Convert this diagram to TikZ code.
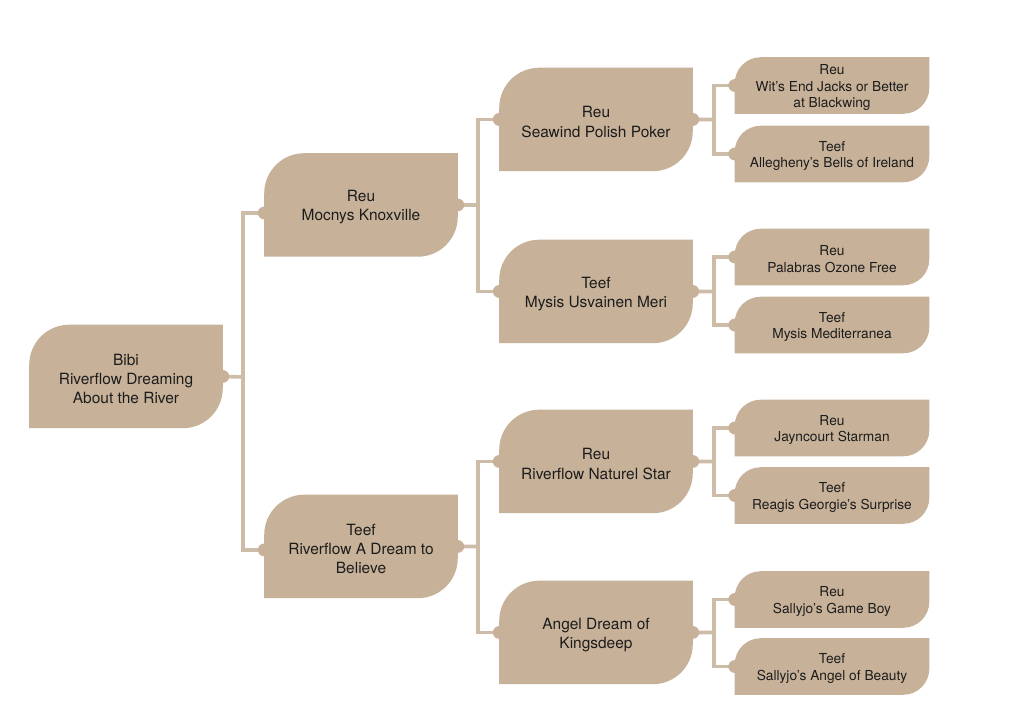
\documentclass[tikz,border=0pt]{standalone}
\usepackage{fontspec}
\setmainfont{TeX Gyre Heros}
\usetikzlibrary{backgrounds}
\definecolor{pedfill}{RGB}{199,178,153}
\definecolor{pedline}{RGB}{205,189,168}
\definecolor{pedtext}{RGB}{28,28,28}
\tikzset{
  mainbox/.style={rectangle, inner sep=0pt, minimum width=144.75pt, minimum height=77.25pt,
    align=center, text=pedtext, font=\fontsize{11.6}{14.3}\selectfont},
  leafbox/.style={rectangle, inner sep=0pt, minimum width=145.5pt, minimum height=42pt,
    align=center, text=pedtext, font=\fontsize{10.3}{12.3}\selectfont},
  conn/.style={draw=pedline, line width=2.7pt},
  tabdot/.style={fill=pedfill},
}
% shape drawn around node #1, corner radius #2, shifted vertically by #3
\newcommand\pedshape[3]{%
  \fill[pedfill] ([yshift=#3]#1.south west) -- ([yshift=#3-#2]#1.north west)
    arc[start angle=180,end angle=90,radius=#2] -- ([yshift=#3]#1.north east)
    -- ([yshift=#3+#2]#1.south east) arc[start angle=0,end angle=-90,radius=#2] -- cycle;}
\newcommand\pedtab[1]{\fill[tabdot] (#1) circle[radius=4.8pt];}
\begin{document}
\begin{tikzpicture}[x=0.75pt,y=-0.75pt]
\useasboundingbox (0,0) rectangle (1024,724);
% generation 1 (text sits 2.5px below the box centre)
\node[mainbox] (root) at (126,379) {Bibi\\Riverflow Dreaming\\About the River};
% generation 2
\node[mainbox] (kn) at (361,207.5) {Reu\\Mocnys Knoxville};
\node[mainbox] (rd) at (361,549) {Teef\\Riverflow A Dream to\\Believe};
% generation 3
\node[mainbox] (sw) at (596,122) {Reu\\Seawind Polish Poker};
\node[mainbox] (mu) at (596,294) {Teef\\Mysis Usvainen Meri};
\node[mainbox] (ns) at (596,464) {Reu\\Riverflow Naturel Star};
\node[mainbox] (ad) at (596,635) {Angel Dream of\\Kingsdeep};
% generation 4 (text sits 2px below the box centre)
\node[leafbox] (we) at (832,87.5) {Reu\\Wit’s End Jacks or Better\\at Blackwing};
\node[leafbox] (ab) at (832,156) {Teef\\Allegheny’s Bells of Ireland};
\node[leafbox] (po) at (832,259) {Reu\\Palabras Ozone Free};
\node[leafbox] (mm) at (832,327) {Teef\\Mysis Mediterranea};
\node[leafbox] (js) at (832,430) {Reu\\Jayncourt Starman};
\node[leafbox] (rg) at (832,497.5) {Teef\\Reagis Georgie’s Surprise};
\node[leafbox] (gb) at (832,601.5) {Reu\\Sallyjo’s Game Boy};
\node[leafbox] (sa) at (832,668.5) {Teef\\Sallyjo’s Angel of Beauty};
% tab points on the box edges
\foreach \n in {root,kn,rd,sw,mu,ns,ad}{
  \coordinate (\n-w) at ([yshift=1.9pt]\n.west);
  \coordinate (\n-e) at ([yshift=1.9pt]\n.east);}
\foreach \n in {we,ab,po,mm,js,rg,gb,sa}{
  \coordinate (\n-w) at ([yshift=1.5pt]\n.west);}
\coordinate (knin) at ([yshift=-4.1pt]kn.west);
\coordinate (rdin) at ([yshift=-0.7pt]rd.west);
% bus junctions
\coordinate (b0) at (243,377);
\coordinate (b1) at (478,205);
\coordinate (b2) at (478,546.5);
\coordinate (b3) at (714,119.5);
\coordinate (b4) at (714,291.5);
\coordinate (b5) at (714,461.5);
\coordinate (b6) at (714,632.5);
\begin{scope}[on background layer]
  \fill[white] (0,0) rectangle (1024,724);
  % connectors
  \draw[conn] (root-e) -- (b0);
  \draw[conn] (knin) -| (b0) |- (rdin);
  \draw[conn] (kn-e) -- (b1);
  \draw[conn] (sw-w) -| (b1) |- (mu-w);
  \draw[conn] (rd-e) -- (b2);
  \draw[conn] (ns-w) -| (b2) |- (ad-w);
  \draw[conn] (sw-e) -- (b3);
  \draw[conn] (we-w) -| (b3) |- (ab-w);
  \draw[conn] (mu-e) -- (b4);
  \draw[conn] (po-w) -| (b4) |- (mm-w);
  \draw[conn] (ns-e) -- (b5);
  \draw[conn] (js-w) -| (b5) |- (rg-w);
  \draw[conn] (ad-e) -- (b6);
  \draw[conn] (gb-w) -| (b6) |- (sa-w);
  % boxes
  \foreach \n in {root,kn,rd,sw,mu,ns,ad}{\pedshape{\n}{30pt}{1.9pt}}
  \foreach \n in {we,ab,po,mm,js,rg,gb,sa}{\pedshape{\n}{19.5pt}{1.5pt}}
  % tabs
  \pedtab{root-e}
  \pedtab{knin} \pedtab{kn-e}
  \pedtab{rdin} \pedtab{rd-e}
  \foreach \n in {sw,mu,ns,ad}{\pedtab{\n-w} \pedtab{\n-e}}
  \foreach \n in {we,ab,po,mm,js,rg,gb,sa}{\pedtab{\n-w}}
\end{scope}
\end{tikzpicture}
\end{document}
